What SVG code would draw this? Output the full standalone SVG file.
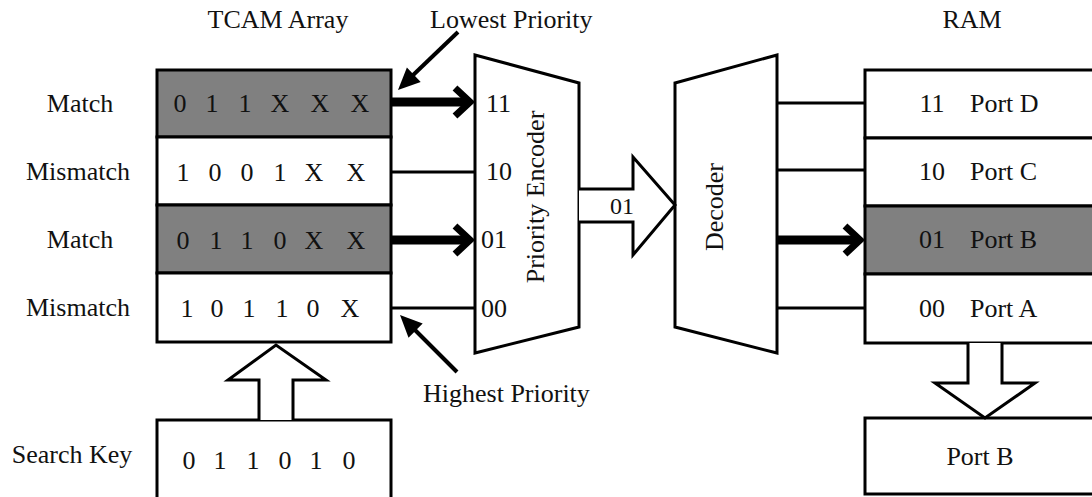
<svg xmlns="http://www.w3.org/2000/svg" width="1092" height="497" viewBox="0 0 1092 497">
<style>
text{font-family:"Liberation Serif","Times New Roman",serif;font-size:26px;fill:#111}
.box{fill:#fff;stroke:#000;stroke-width:3}
.hl{fill:#808080;stroke:#000;stroke-width:3}
.ln{stroke:#000;stroke-width:3;fill:none}
.thick{stroke:#000;stroke-width:9;fill:none}
.chev{stroke:#000;stroke-width:7;fill:none;stroke-linejoin:miter;stroke-miterlimit:10}
.hollow{fill:#fff;stroke:#000;stroke-width:3;stroke-linejoin:miter}
.ptr{stroke:#000;stroke-width:4;fill:none}
.mid{text-anchor:middle}
</style>
<rect width="1092" height="497" fill="#fff"/>

<g id="titles">
<text x="278" y="28" class="mid">TCAM Array</text>
<text x="972" y="28" class="mid">RAM</text>
</g>

<g id="row-labels">
<text x="80" y="112" class="mid">Match</text>
<text x="78" y="180" class="mid">Mismatch</text>
<text x="80" y="248" class="mid">Match</text>
<text x="78" y="316" class="mid">Mismatch</text>
<text x="72" y="463" class="mid">Search Key</text>
</g>

<g id="tcam-array">
<rect class="hl" x="157" y="70" width="234" height="67"/>
<rect class="box" x="157" y="137" width="234" height="68"/>
<rect class="hl" x="157" y="205" width="234" height="68"/>
<rect class="box" x="157" y="273" width="234" height="69"/>
<text class="mid" x="180 212 245 280 320 360" y="112">011XXX</text>
<text class="mid" x="183 215 247 280 314 356" y="181">1001XX</text>
<text class="mid" x="183 216 247 280 314 356" y="249">0110XX</text>
<text class="mid" x="187 217 249 282 313 350" y="317">10110X</text>
</g>

<g id="search-key">
<rect class="box" x="157" y="420" width="234" height="82"/>
<text class="mid" x="189 220 253 285 316 349" y="469">011010</text>
</g>

<g id="priority-encoder">
<polygon class="box" points="475,55 579,83 579,327 475,353"/>
<text x="486" y="112">11</text>
<text x="486" y="180">10</text>
<text x="481" y="248">01</text>
<text x="481" y="317">00</text>
<text class="mid" transform="translate(544,197) rotate(-90)">Priority Encoder</text>
</g>

<g id="decoder">
<polygon class="box" points="675,83 777,55 777,353 675,327"/>
<text class="mid" transform="translate(723,207) rotate(-90)">Decoder</text>
</g>

<g id="ram">
<rect class="box" x="865" y="70" width="240" height="68"/>
<rect class="box" x="865" y="138" width="240" height="68"/>
<rect class="hl" x="865" y="206" width="240" height="68"/>
<rect class="box" x="865" y="274" width="240" height="69"/>
<text class="mid" x="932" y="112">11</text><text x="970" y="112">Port D</text>
<text class="mid" x="932" y="180">10</text><text x="970" y="180">Port C</text>
<text class="mid" x="932" y="248">01</text><text x="970" y="248">Port B</text>
<text class="mid" x="932" y="317">00</text><text x="970" y="317">Port A</text>
</g>

<g id="port-b-output">
<rect class="box" x="865" y="418" width="240" height="76"/>
<text class="mid" x="980" y="465">Port B</text>
</g>

<g id="annotations">
<text x="430" y="28">Lowest Priority</text>
<text x="423" y="402">Highest Priority</text>
</g>

<g id="connectors">
<!-- TCAM -> encoder -->
<line class="thick" x1="391" y1="102" x2="468" y2="102"/>
<polyline class="chev" points="455,88 470,102 455,116"/>
<line class="ln" x1="391" y1="172" x2="475" y2="172"/>
<line class="thick" x1="391" y1="240" x2="468" y2="240"/>
<polyline class="chev" points="455,226 470,240 455,254"/>
<line class="ln" x1="391" y1="308" x2="475" y2="308"/>
<!-- encoder -> decoder hollow arrow -->
<path class="hollow" d="M579,189 H633 V157 L675,205 L633,255 V222 H579"/>
<text class="mid" x="622" y="214" style="font-size:24px">01</text>
<!-- decoder -> RAM -->
<line class="ln" x1="777" y1="103" x2="865" y2="103"/>
<line class="ln" x1="777" y1="170" x2="865" y2="170"/>
<line class="thick" x1="777" y1="240" x2="858" y2="240"/>
<polyline class="chev" points="845,226 860,240 845,254"/>
<line class="ln" x1="777" y1="308" x2="865" y2="308"/>
<!-- search key -> TCAM -->
<path class="hollow" d="M259,420 V380 H228 L276,345 L326,380 H293 V420"/>
<!-- RAM -> Port B -->
<path class="hollow" d="M968,343 V383 H935 L985,418 L1035,383 H1002 V343"/>
<!-- priority pointers -->
<line class="ptr" x1="458" y1="32" x2="410" y2="78"/>
<polygon points="398,90 420.7,81.9 406.9,67.5" fill="#000"/>
<line class="ptr" x1="457" y1="372" x2="411" y2="326"/>
<polygon points="400,315 422.7,323.5 408.5,337.7" fill="#000"/>
</g>
</svg>
